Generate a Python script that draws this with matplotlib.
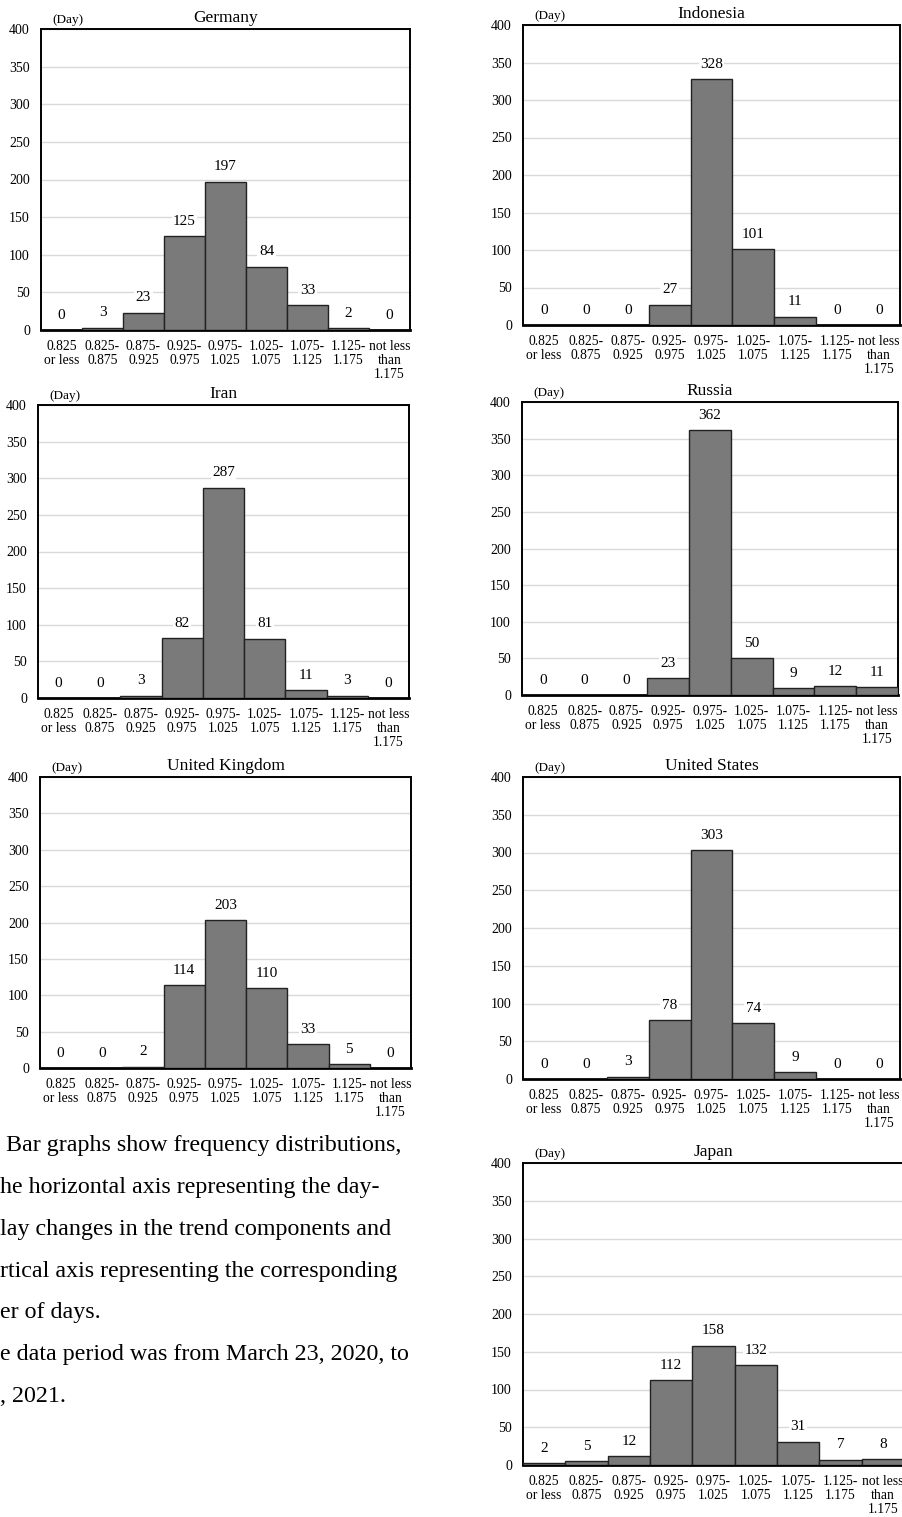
import numpy as np
import matplotlib
matplotlib.use("Agg")
import matplotlib.pyplot as plt

plt.rcParams['font.family'] = ['Liberation Serif', 'DejaVu Serif']

# bins of the day-to-day change
bins = ["0.825\nor less", "0.825-\n0.875", "0.875-\n0.925", "0.925-\n0.975",
        "0.975-\n1.025", "1.025-\n1.075", "1.075-\n1.125", "1.125-\n1.175",
        "not less\nthan\n1.175"]

germany = [0, 3, 23, 125, 197, 84, 33, 2, 0]
indonesia = [0, 0, 0, 27, 328, 101, 11, 0, 0]
iran = [0, 0, 3, 82, 287, 81, 11, 3, 0]
russia = [0, 0, 0, 23, 362, 50, 9, 12, 11]
uk = [0, 0, 2, 114, 203, 110, 33, 5, 0]
us = [0, 0, 3, 78, 303, 74, 9, 0, 0]
japan = [2, 5, 12, 112, 158, 132, 31, 7, 8]

note_lines = [" Bar graphs show frequency distributions,",
              "he horizontal axis representing the day-",
              "lay changes in the trend components and",
              "rtical axis representing the corresponding",
              "er of days.",
              "e data period was from March 23, 2020, to",
              ", 2021."]

W, H = 902, 1517
fig = plt.figure(figsize=(W / 100, H / 100), dpi=100)

# name, values, pixel box (left, top, right, bottom)
panels = [
    ("Germany", germany, (41, 29, 410, 330)),
    ("Indonesia", indonesia, (523, 25, 900, 325)),
    ("Iran", iran, (38, 405, 409, 698)),
    ("Russia", russia, (522, 402, 898, 695)),
    ("United Kingdom", uk, (40, 777, 411, 1068)),
    ("United States", us, (523, 777, 900, 1079)),
    ("Japan", japan, (523, 1163, 904, 1465)),
]

for name, vals, (l, t, r, b) in panels:
    ax = fig.add_axes([l / W, 1 - b / H, (r - l) / W, (b - t) / H])
    x = np.arange(len(vals))
    ax.bar(x, vals, width=1.0, color="#7a7a7a", edgecolor="#222222", linewidth=1.0, zorder=3)
    for xi, v in zip(x, vals):
        ax.annotate(str(v), (xi, v), xytext=(0, 6), textcoords="offset points",
                    ha="center", va="bottom", fontsize=11,
                    bbox=dict(boxstyle="square,pad=0.1", fc="white", ec="none"))
    ax.set_xlim(-0.5, len(vals) - 0.5)
    ax.set_ylim(0, 400)
    ax.set_yticks(np.arange(0, 401, 50))
    ax.yaxis.grid(True, color="#d9d9d9", linewidth=1.0, zorder=0)
    ax.set_axisbelow(True)
    ax.set_xticks(x)
    ax.set_xticklabels(bins, fontsize=9.8, linespacing=1.1, va="top")
    ax.tick_params(axis="both", length=0)
    ax.tick_params(axis="y", labelsize=10)
    ax.tick_params(axis="x", pad=7)
    ax.tick_params(axis="y", pad=8)
    for s in ax.spines.values():
        s.set_linewidth(1.4)
    ax.spines["bottom"].set_linewidth(2.0)
    ax.set_title(name, fontsize=12.5, pad=5)
    ax.text(0.03, 1.01, "(Day)", transform=ax.transAxes, fontsize=9.5, ha="left", va="bottom")

y0 = 1146
for i, line in enumerate(note_lines):
    fig.text(0 / W, 1 - (y0 + i * 41.7) / H, line, fontsize=17.3, ha="left", va="center")

fig.savefig("out.png", dpi=100)
